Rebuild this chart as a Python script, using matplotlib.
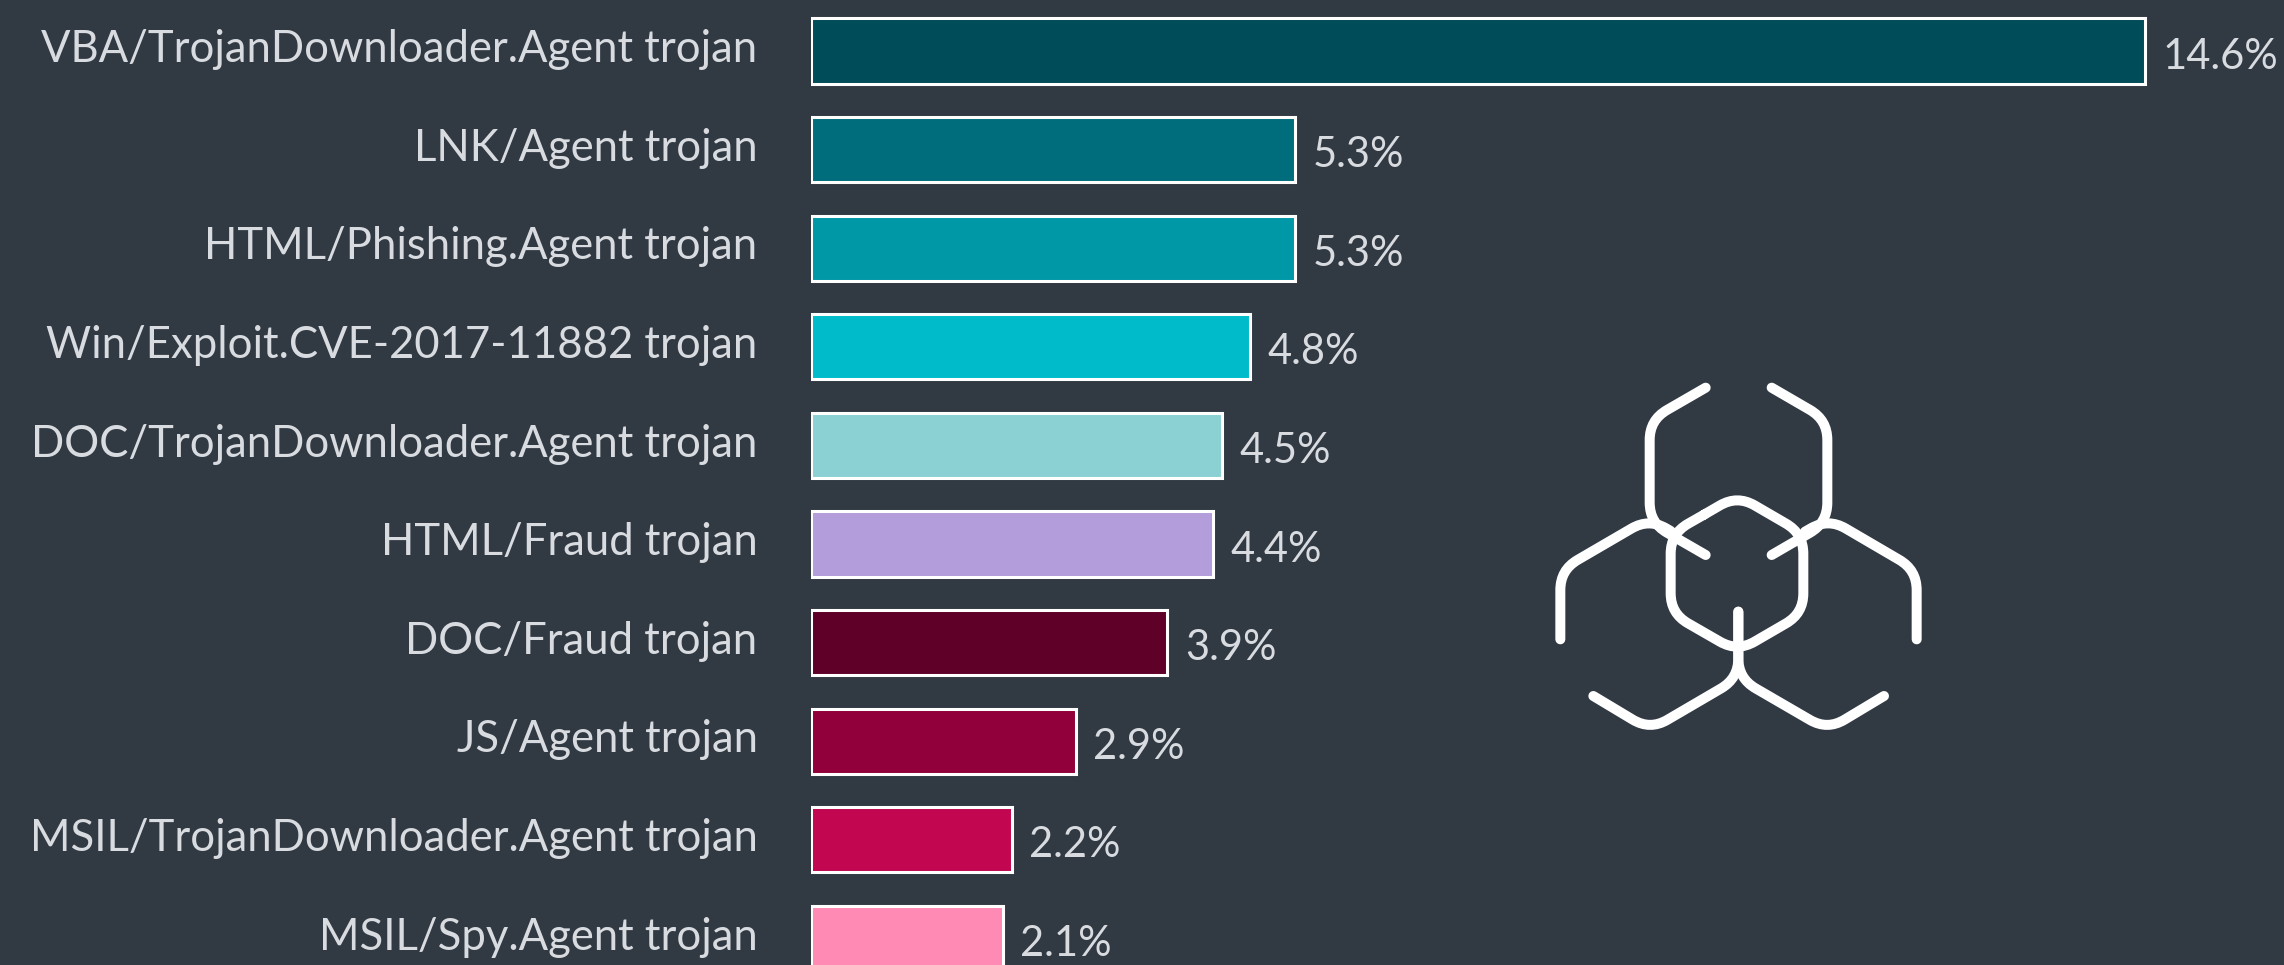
import numpy as np
import matplotlib
matplotlib.use('Agg')
import matplotlib.pyplot as plt
from matplotlib.path import Path
from matplotlib.patches import PathPatch

names = ['VBA/TrojanDownloader.Agent trojan', 'LNK/Agent trojan',
         'HTML/Phishing.Agent trojan', 'Win/Exploit.CVE-2017-11882 trojan',
         'DOC/TrojanDownloader.Agent trojan', 'HTML/Fraud trojan',
         'DOC/Fraud trojan', 'JS/Agent trojan',
         'MSIL/TrojanDownloader.Agent trojan', 'MSIL/Spy.Agent trojan']
values = [14.6, 5.3, 5.3, 4.8, 4.5, 4.4, 3.9, 2.9, 2.2, 2.1]
colors = ['#004c58', '#006d7c', '#0097a7', '#00bcca', '#8bd1d4',
          '#b39ddb', '#5f0029', '#91003b', '#c2064f', '#ff8ab4']

BG = '#313943'
TXT = '#d8dbdf'
W, H = 2284, 965

# Titillium is not installed, Lato is the nearest in width
FONT = ['Lato', 'Open Sans', 'DejaVu Sans']

fig = plt.figure(figsize=(W / 100, H / 100), dpi=100, facecolor=BG)
ax = fig.add_axes([811 / W, 0, (W - 811) / W, 1], facecolor='none')

y = np.arange(len(values))
ax.barh(y, values, height=0.66, color=colors, edgecolor='white', linewidth=2.2)
ax.set_xlim(0, (W - 811) / 91.4)
ax.set_ylim((H - 51) / 98.6, -51 / 98.6)

ax.set_yticks([])
ax.set_xticks([])
for s in ax.spines.values():
    s.set_visible(False)

for name, v, i in zip(names, values, y):
    ax.annotate(name, (0, i), xytext=(-38.5, 1), textcoords='offset points', annotation_clip=False,
                va='center', ha='right', family=FONT, fontsize=31.4, color=TXT)
    ax.annotate('%.1f%%' % v, (v, i), xytext=(12.5, -4), textcoords='offset points',
                va='center', ha='left', family=FONT, fontsize=30, color=TXT)


def rounded(points, r=20):
    # polyline with rounded corners
    verts = [points[0]]
    codes = [Path.MOVETO]
    for k in range(1, len(points) - 1):
        p0, p1, p2 = [np.array(p, float) for p in points[k - 1:k + 2]]
        a = p1 + (p0 - p1) / np.linalg.norm(p0 - p1) * r
        b = p1 + (p2 - p1) / np.linalg.norm(p2 - p1) * r
        verts += [a, p1, b]
        codes += [Path.LINETO, Path.CURVE3, Path.CURVE3]
    verts.append(points[-1])
    codes.append(Path.LINETO)
    return Path(verts, codes)


# icon, traced in reference pixels
ov = fig.add_axes([0, 0, 1, 1], facecolor='none')
ov.set_xlim(0, W)
ov.set_ylim(H, 0)
ov.axis('off')


def z(x, y_):
    return (1500 + x / 3, 350 + y_ / 3)


strokes = [
    [(617, 113), (449, 210), (449, 518), (617, 615)],
    [(815, 113), (982, 210), (982, 518), (815, 615)],
    [(612, 494), (512, 551), (512, 790), (712, 905), (910, 790), (910, 551), (712, 436), (612, 494)],
    [(181, 868), (181, 660), (447, 505), (512, 543)],
    [(1250, 868), (1250, 660), (985, 505), (915, 545)],
    [(280, 1038), (450, 1140), (715, 985), (715, 785)],
    [(1152, 1038), (982, 1140), (715, 985), (715, 785)],
]
for st in strokes:
    ov.add_patch(PathPatch(rounded([z(*p) for p in st]), fill=False, edgecolor='white',
                           linewidth=7.2, capstyle='round', joinstyle='round'))

fig.savefig('out.png', dpi=100, facecolor=BG)
